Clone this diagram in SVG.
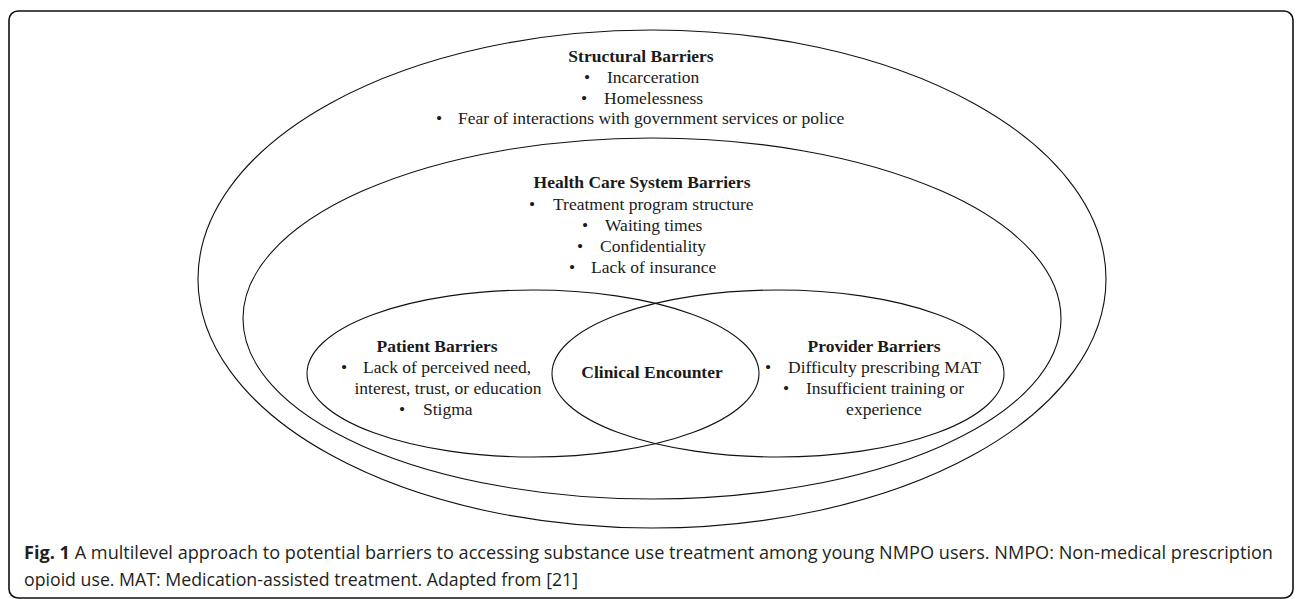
<svg xmlns="http://www.w3.org/2000/svg" width="1296" height="599" viewBox="0 0 1296 599">
<style>
.e{fill:none;stroke:#111;stroke-width:1.1}
.t{font-family:"Liberation Serif","Times New Roman",serif;font-size:17.5px;fill:#1a1a1a}
.b{font-weight:bold}
.c{font-family:"Open Sans","Noto Sans",sans-serif;font-size:18.5px;fill:#231f20}
</style>
<rect x="9" y="11" width="1284" height="587" rx="9" ry="9" fill="#fff" stroke="#111" stroke-width="1.6"/>
<g id="structural">
<ellipse class="e" cx="652" cy="279" rx="454" ry="249"/>
<text class="t b" x="641" y="62" text-anchor="middle">Structural Barriers</text>
<text class="t" x="584" y="83">•</text><text class="t" x="607" y="83">Incarceration</text>
<text class="t" x="581" y="104">•</text><text class="t" x="604" y="104">Homelessness</text>
<text class="t" x="436" y="124">•</text><text class="t" x="458" y="124">Fear of interactions with government services or police</text>
</g>
<g id="healthcare">
<ellipse class="e" cx="652" cy="318.5" rx="409" ry="180.5"/>
<text class="t b" x="642" y="188" text-anchor="middle">Health Care System Barriers</text>
<text class="t" x="529" y="210">•</text><text class="t" x="553" y="210">Treatment program structure</text>
<text class="t" x="582" y="231">•</text><text class="t" x="605" y="231">Waiting times</text>
<text class="t" x="577" y="252">•</text><text class="t" x="600" y="252">Confidentiality</text>
<text class="t" x="569" y="273">•</text><text class="t" x="591" y="273">Lack of insurance</text>
</g>
<g id="patient">
<ellipse class="e" cx="533" cy="373.5" rx="226" ry="83.5"/>
<text class="t b" x="437" y="352" text-anchor="middle">Patient Barriers</text>
<text class="t" x="341" y="373">•</text><text class="t" x="363" y="373">Lack of perceived need,</text>
<text class="t" x="448" y="394" text-anchor="middle">interest, trust, or education</text>
<text class="t" x="399" y="415">•</text><text class="t" x="423" y="415">Stigma</text>
</g>
<g id="provider">
<ellipse class="e" cx="778" cy="373.5" rx="226" ry="83.5"/>
<text class="t b" x="874" y="352" text-anchor="middle">Provider Barriers</text>
<text class="t" x="765" y="373">•</text><text class="t" x="788" y="373">Difficulty prescribing MAT</text>
<text class="t" x="783" y="394">•</text><text class="t" x="806" y="394">Insufficient training or</text>
<text class="t" x="884" y="415" text-anchor="middle">experience</text>
</g>
<g id="clinical">
<text class="t b" x="652" y="378" text-anchor="middle">Clinical Encounter</text>
</g>
<g id="connectors"/>
<g id="caption">
<text class="c" x="24" y="559" textLength="1249" lengthAdjust="spacingAndGlyphs"><tspan font-weight="bold">Fig. 1</tspan> A multilevel approach to potential barriers to accessing substance use treatment among young NMPO users. NMPO: Non-medical prescription</text>
<text class="c" x="24" y="586" textLength="554" lengthAdjust="spacingAndGlyphs">opioid use. MAT: Medication-assisted treatment. Adapted from [21]</text>
</g>
</svg>
